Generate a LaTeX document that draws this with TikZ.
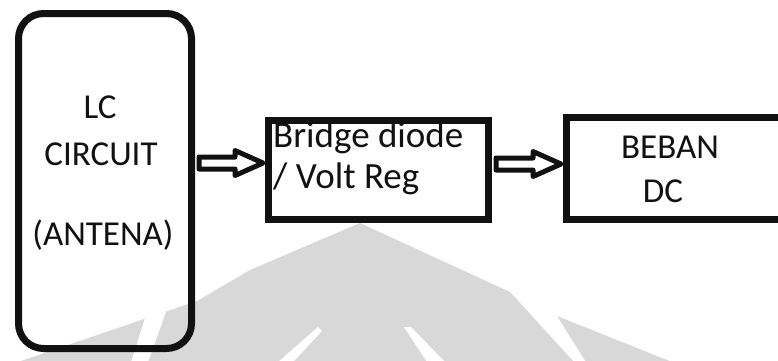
\documentclass[tikz,border=0pt]{standalone}
\usepackage{fontspec}
\setmainfont{Carlito}
\usetikzlibrary{calc}

\definecolor{ink}{RGB}{17,17,17}
\definecolor{mark}{RGB}{216,216,216}

\tikzset{
  block/.style={draw=ink, line width=7pt, inner sep=0pt},
  label/.style={text=ink, inner sep=0pt, font=\fontsize{35}{40}\selectfont},
  widelabel/.style={label, font=\fontsize{37}{42}\selectfont},
  % outlined block arrow drawn between two points at the same height
  hollowarrow/.style={draw=ink, line width=5pt, line join=round, fill=white,
    to path={let \p1=(\tikztostart), \p2=(\tikztotarget) in
      (\x1+4pt,\y1+6pt) -- (\x2-30pt,\y1+6pt) -- (\x2-30pt,\y1+12.5pt)
      -- (\x2-2pt,\y1) -- (\x2-30pt,\y1-12.5pt) -- (\x2-30pt,\y1-6pt)
      -- (\x1+4pt,\y1-6pt) -- cycle}},
  wmark/.style={fill=mark, draw=none},
  gap/.style={fill=white, draw=none}
}

\begin{document}
\begin{tikzpicture}[x=1pt, y=-1pt]
  \clip (0,0) rectangle (778,360);
  \fill[white] (0,0) rectangle (778,360);

  % faint background emblem
  \fill[wmark] (360,223) -- (250,270) -- (197,301) -- (18,362)
               -- (574,362) -- (510,292) -- cycle;
  \fill[wmark] (557,316) -- (672,362) -- (586,362) -- cycle;
  \fill[gap] (147,312) -- (166,312) -- (148,362) -- (131,362) -- cycle;
  \fill[gap] (318,327) -- (322,331) -- (293,362) -- (278,362) -- cycle;
  \fill[gap] (404,327) -- (411,327) -- (445,362) -- (427,362) -- cycle;

  % blocks
  \node[block, rounded corners=25pt, minimum width=173pt, minimum height=335pt]
    (lc) at (105,181) {};
  \node[block, minimum width=220pt, minimum height=99pt] (br) at (378.5,170) {};
  \node[block, minimum width=260pt, minimum height=102pt, anchor=west]
    (dc) at (563,168) {};

  % texts
  \node[label, anchor=base] (t1) at (100,118) {LC};
  \node[label, anchor=base] (t2) at (101,165) {CIRCUIT};
  \node[label, anchor=base] (t3) at (103,245) {(ANTENA)};
  \node[widelabel, anchor=base west] (t4) at (273,147) {Bridge diode};
  \node[widelabel, anchor=base west] (t5) at (273,188) {/ Volt Reg};
  \node[label, anchor=base] (t6) at (670,158) {BEBAN};
  \node[label, anchor=base] (t7) at (663,202) {DC};

  % connectors
  \draw[hollowarrow] (lc.east |- 0,163) to (br.west |- 0,163);
  \draw[hollowarrow] (br.east |- 0,164) to (dc.west |- 0,164);
\end{tikzpicture}
\end{document}
